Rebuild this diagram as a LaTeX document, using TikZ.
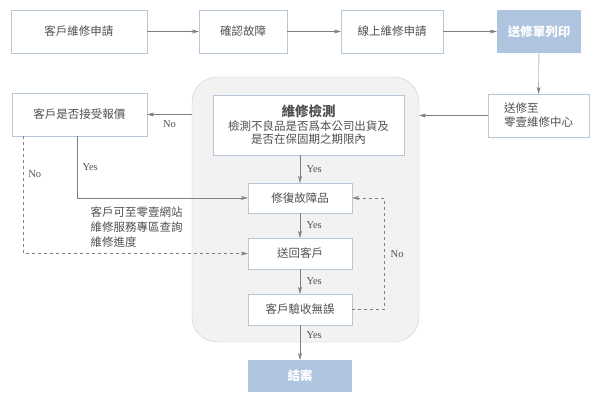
\documentclass[tikz,border=0pt]{standalone}
\usepackage{fontspec}
\setmainfont{Noto Sans CJK TC}
\newfontfamily\labelfont{Liberation Serif}
\usetikzlibrary{positioning, arrows.meta, calc}

\definecolor{boxline}{HTML}{B8C7D6}
\definecolor{boxfill}{HTML}{AFC4DE}
\definecolor{panelfill}{HTML}{F2F2F2}
\definecolor{panelline}{HTML}{C3CFDC}
\definecolor{wire}{HTML}{7F7F7F}
\definecolor{txt}{HTML}{505050}

\begin{document}
\begin{tikzpicture}[
    x=1pt, y=-1pt,
    stepbox/.style={rectangle, draw=boxline, fill=white, text=txt, inner sep=2pt, align=center, font=\fontsize{11.5}{14}\selectfont},
    donebox/.style={rectangle, fill=boxfill, text=white, inner sep=2pt, font=\fontsize{12.5}{15}\selectfont\bfseries},
    panel/.style={rectangle, rounded corners=25pt, draw=panelline, fill=panelfill, minimum width=227pt, minimum height=265pt},
    edge/.style={draw=wire, -{Stealth[length=7pt, width=4pt]}},
    dashedge/.style={edge, dashed},
    tag/.style={text=txt, font=\labelfont\fontsize{10.5}{12}\selectfont}
]
    \useasboundingbox (0,0) rectangle (598,404);

    % Repair centre panel ===========================
    \node[panel] (lab) at (305.5, 209.5) {};

    % Top row ===========================
    \node[stepbox, minimum width=136pt, minimum height=43pt] (request) at (79, 31.5) {客戶維修申請};
    \node[stepbox, minimum width=88pt, minimum height=43pt] (confirm) at (243, 31.5) {確認故障};
    \node[stepbox, minimum width=102pt, minimum height=43pt] (online) at (392, 31.5) {線上維修申請};
    \node[donebox, minimum width=84pt, minimum height=43pt] (print) at (539, 31.5) {送修單列印};
    \node[stepbox, minimum width=101pt, minimum height=43pt, align=left] (ship) at (538.5, 115.5) {送修至\\零壹維修中心};

    % Inside the panel ===========================
    \node[stepbox, minimum width=191pt, minimum height=60pt, font=\fontsize{11.5}{13.5}\selectfont] (check) at (308.5, 125) {{\fontsize{13.5}{15}\selectfont\bfseries 維修檢測}\\檢測不良品是否爲本公司出貨及\\是否在保固期之期限內};
    \node[stepbox, minimum width=104pt, minimum height=30pt] (repair) at (300, 198) {修復故障品};
    \node[stepbox, minimum width=104pt, minimum height=31pt] (back) at (300, 253.5) {送回客戶};
    \node[stepbox, minimum width=104pt, minimum height=31pt] (accept) at (300, 309.5) {客戶驗收無誤};
    \node[donebox, minimum width=104pt, minimum height=32pt] (close) at (300, 376) {結案};

    % Left side ===========================
    \node[stepbox, minimum width=135pt, minimum height=43pt] (quote) at (79.5, 114.5) {客戶是否接受報價};
    \node[text=txt, align=left, anchor=west, font=\fontsize{11.5}{15}\selectfont] (hint) at (87, 227) {客戶可至零壹網站\\維修服務專區查詢\\維修進度};

    % Edges ===========================
    \draw[edge] (request) -- (confirm);
    \draw[edge] (confirm) -- (online);
    \draw[edge] (online) -- (print);
    \draw[edge] (print) -- (ship);
    \draw[edge] (ship.west) -- (ship.west -| lab.east);
    \draw[edge] (lab.west |- quote.east) -- node[tag, below, yshift=-3pt] {No} (quote.east);

    \draw[edge] ([xshift=-2.5pt]quote.south) |- node[tag, right, pos=0.25, xshift=2pt] {Yes} (repair.west);
    \draw[dashedge] ([xshift=11pt]quote.south west) |- node[tag, right, pos=0.16, xshift=2pt] {No} (back.west);

    \draw[edge] (check.south -| repair.north) -- node[tag, right, xshift=3pt] {Yes} (repair.north);
    \draw[edge] (repair) -- node[tag, right, xshift=3pt] {Yes} (back);
    \draw[edge] (back) -- node[tag, right, xshift=3pt] {Yes} (accept);
    \draw[edge] (accept) -- node[tag, right, pos=0.3, xshift=3pt] {Yes} (close);
    \draw[dashedge] (accept.east) -- ++(32,0) |- node[tag, right, pos=0.25, xshift=3pt] {No} (repair.east);

\end{tikzpicture}
\end{document}
